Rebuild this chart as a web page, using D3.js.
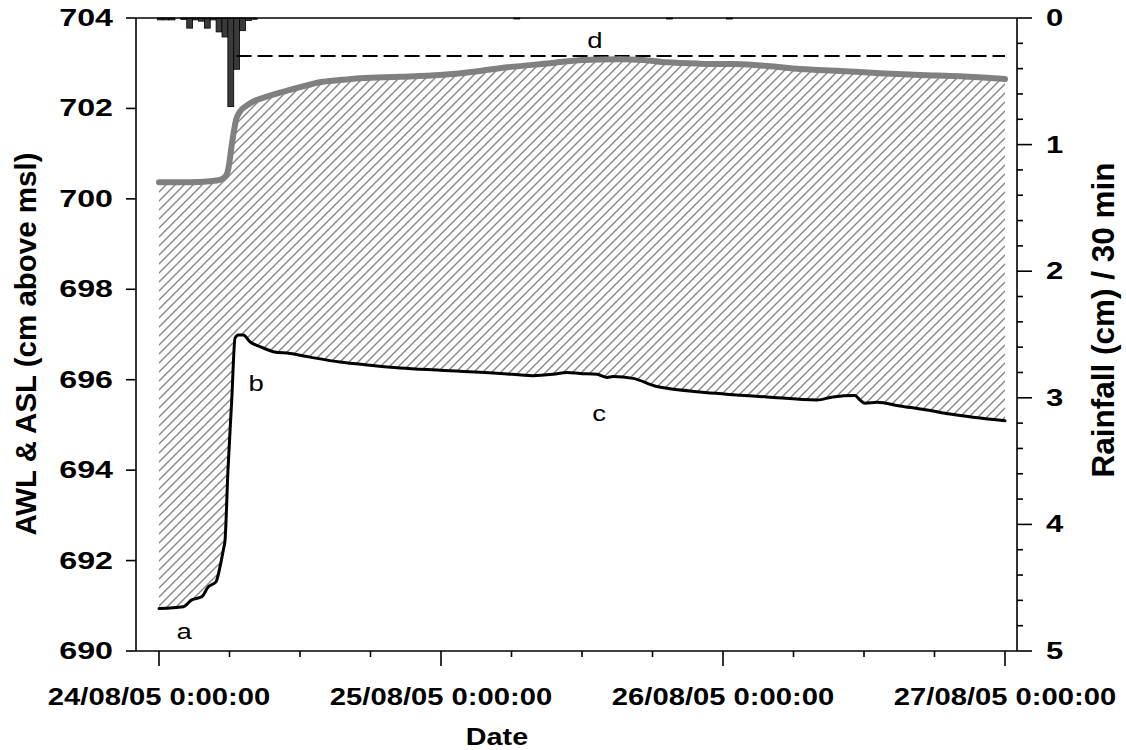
<!DOCTYPE html>
<html><head><meta charset="utf-8">
<script src="https://cdn.jsdelivr.net/npm/d3@7"></script>
<style>body{margin:0;background:#fff}</style>
</head><body><svg id="c" width="1126" height="750"></svg>
<script>
// ---- data (hours since 24/08/05 0:00) ----
const awlHours  = [0,2.64,4.34,5.19,5.70,5.96,6.13,6.32,6.55,6.89,7.40,8.0,9.17,10.30,11.15,12.0,13.70,15.40,17.11,20.51,23.91,27.32,29.02,33.28,36.09,39.23,41.19,43.23,46.04,48.85,51.74,54.55,57.96,61.36,64.77,68.17,72];
const awlLevel  = [700.37,700.37,700.39,700.42,700.51,700.75,701.08,701.41,701.74,701.93,702.05,702.15,702.26,702.35,702.41,702.47,702.58,702.63,702.67,702.70,702.74,702.83,702.89,703.0,703.07,703.09,703.07,703.02,702.99,702.98,702.94,702.87,702.83,702.78,702.74,702.71,702.65];
const aslHours  = [0,2.07,2.78,3.63,4.20,4.85,5.19,5.47,5.62,5.87,6.19,6.47,6.75,7.17,7.74,8.60,9.73,11.15,12.85,15.40,17.96,20.51,23.91,29.02,31.83,33.53,34.72,35.83,37.28,38.13,38.64,40.34,42.38,43.23,46.04,51.74,56.0,57.36,59.23,59.66,60.09,61.11,63.06,65.36,67.32,72];
const aslLevel  = [690.94,690.98,691.13,691.20,691.42,691.53,691.86,692.23,692.45,694.00,695.55,696.92,696.99,696.99,696.84,696.73,696.62,696.58,696.50,696.39,696.32,696.26,696.21,696.14,696.09,696.12,696.16,696.14,696.12,696.05,696.07,696.03,695.85,695.81,695.73,695.62,695.55,695.62,695.65,695.55,695.48,695.50,695.42,695.33,695.24,695.09];
const rainHours = [-0.14,0.36,0.86,1.86,2.36,2.86,3.36,3.86,4.36,4.86,5.36,5.86,6.36,6.86,7.36,7.86,30.2,43.2,48.3];
const rainCm    = [0.015,0.015,0.015,0.012,0.08,0.015,0.025,0.08,0.015,0.11,0.15,0.70,0.405,0.10,0.02,0.01,0.008,0.008,0.008];
const refLevel = 703.16, refStartHour = 6.6;
const leftTicks  = [690,692,694,696,698,700,702,704];
const rightTicks = [0,1,2,3,4,5];
const dayTickHours = [0,24,48,72];
const noteText  = ["a","b","c","d"];
const noteHours = [2.13,8.26,37.45,37.1];
const noteLevel = [690.44,695.93,695.26,703.51];

const start = new Date(2005,7,24,0,0,0);
const T = h => new Date(start.getTime()+h*3600e3);
const svg = d3.select("#c");
const L=136,R=1017,TOP=18,BOT=651;
const x = d3.scaleTime().domain([T(0),T(72)]).range([159,1005]);
const y = d3.scaleLinear().domain([690,704]).range([BOT,TOP]);
const yr = d3.scaleLinear().domain([0,5]).range([TOP,BOT]);
const FONT = "'Liberation Sans', Arial, sans-serif";

// hatch pattern
const defs = svg.append("defs");
const pat = defs.append("pattern").attr("id","hatch").attr("patternUnits","userSpaceOnUse")
  .attr("width",9).attr("height",9);
pat.append("path").attr("d","M0,9 L9,0 M-2,2 L2,-2 M7,11 L11,7")
  .attr("stroke","#858585").attr("stroke-width",1.4).attr("fill","none");

const awl = awlHours.map((h,i)=>({t:T(h),v:awlLevel[i]}));
const asl = aslHours.map((h,i)=>({t:T(h),v:aslLevel[i]}));
const awlF = d3.scaleLinear().domain(awlHours).range(awlLevel);
const aslF = d3.scaleLinear().domain(aslHours).range(aslLevel);
const allH = Array.from(new Set([...awlHours,...aslHours])).sort((a,b)=>a-b);
const band = allH.map(h=>({t:T(h),hi:awlF(h),lo:aslF(h)}));
svg.append("path").datum(band)
  .attr("d",d3.area().x(d=>x(d.t)).y0(d=>y(d.lo)).y1(d=>y(d.hi)).curve(d3.curveMonotoneX))
  .attr("fill","url(#hatch)");

// rain bars
const bw = x(T(0.5))-x(T(0));
svg.append("g").selectAll("rect").data(rainHours).join("rect")
  .attr("x",(h)=>x(T(h))).attr("width",bw).attr("y",TOP)
  .attr("height",(h,i)=>yr(rainCm[i])-TOP)
  .attr("fill","#3a3a3a").attr("stroke","#000").attr("stroke-width",0.8);

// reference dashed line
svg.append("line").attr("x1",x(T(refStartHour))).attr("x2",x(T(72)))
  .attr("y1",y(refLevel)).attr("y2",y(refLevel))
  .attr("stroke","#000").attr("stroke-width",1.8).attr("stroke-dasharray","15,6");

const line = d3.line().x(d=>x(d.t)).y(d=>y(d.v)).curve(d3.curveMonotoneX);
svg.append("path").datum(awl).attr("d",line).attr("fill","none")
  .attr("stroke","#808080").attr("stroke-width",6).attr("stroke-linejoin","round").attr("stroke-linecap","round");
svg.append("path").datum(asl).attr("d",line).attr("fill","none")
  .attr("stroke","#000").attr("stroke-width",3).attr("stroke-linejoin","round").attr("stroke-linecap","round");

// frame
const frame = svg.append("g").attr("stroke","#000").attr("stroke-width",1.6);
frame.append("line").attr("x1",L).attr("x2",R).attr("y1",TOP).attr("y2",TOP);
frame.append("line").attr("x1",L).attr("x2",R).attr("y1",BOT).attr("y2",BOT);
frame.append("line").attr("x1",L).attr("x2",L).attr("y1",TOP).attr("y2",BOT);
frame.append("line").attr("x1",R).attr("x2",R).attr("y1",TOP).attr("y2",BOT);

function stretchText(g, px, py, txt, size, weight, anchor, sx, rot){
  return g.append("text").attr("transform",`translate(${px},${py}) scale(${sx},1)`+(rot?` rotate(${rot})`:""))
    .attr("font-family",FONT).attr("font-size",size).attr("font-weight",weight)
    .attr("text-anchor",anchor).attr("fill","#000").text(txt);
}

// left axis
const gl = svg.append("g");
leftTicks.forEach(v=>{
  gl.append("line").attr("x1",L-10).attr("x2",L).attr("y1",y(v)).attr("y2",y(v)).attr("stroke","#000").attr("stroke-width",1.6);
  stretchText(gl,113,y(v)+8,String(v),23,"bold","end",1.4);
});
// right axis
const gr = svg.append("g");
d3.range(0,5.01,0.2).forEach(v=>{
  const major = Math.abs(v-Math.round(v))<1e-6;
  gr.append("line").attr("x1",R).attr("x2",R+(major?15:6)).attr("y1",yr(v)).attr("y2",yr(v)).attr("stroke","#000").attr("stroke-width",1.6);
});
rightTicks.forEach(v=>stretchText(gr,1046,yr(v)+8,String(v),23,"bold","start",1.35));
// bottom axis
const gb = svg.append("g");
const fmt = d3.timeFormat("%d/%m/%y %-H:%M:%S");
d3.range(0,72.01,6).forEach(h=>{
  const major = h%24===0;
  gb.append("line").attr("x1",x(T(h))).attr("x2",x(T(h))).attr("y1",BOT).attr("y2",BOT+(major?15:6)).attr("stroke","#000").attr("stroke-width",1.6);
});
dayTickHours.forEach(h=>stretchText(gb,x(T(h)),705,fmt(T(h)),23,"bold","middle",1.27));

// titles
stretchText(svg,497,745,"Date",23,"bold","middle",1.25);
stretchText(svg,36,344,"AWL & ASL (cm above msl)",29.5,"bold","middle",1,-90);
stretchText(svg,1114,320,"Rainfall (cm) / 30 min",31.5,"bold","middle",1,-90);

// notes
noteText.forEach((s,i)=>stretchText(svg,x(T(noteHours[i])),y(noteLevel[i])+8,s,22,"normal","middle",1.25));
</script></body></html>
